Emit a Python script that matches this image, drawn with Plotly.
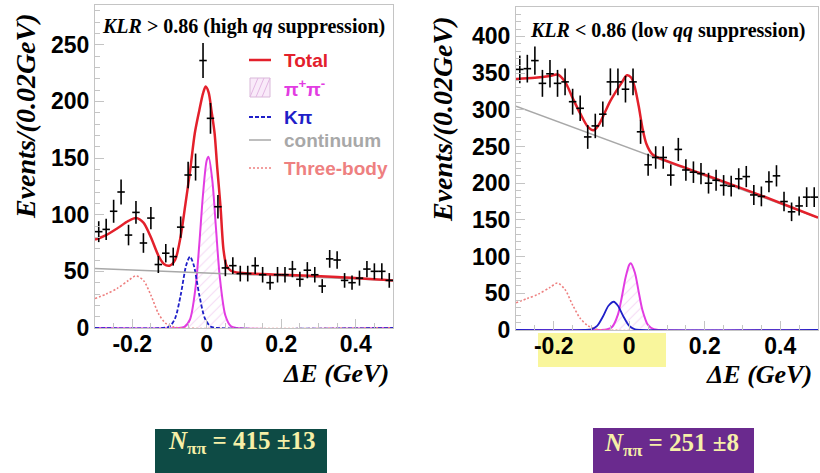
import numpy as np
import plotly.graph_objects as go

W, H = 820, 473

# ---------------- data ----------------
de_bins = [-0.29, -0.27, -0.25, -0.23, -0.21, -0.19, -0.17, -0.15, -0.13, -0.11,
           -0.09, -0.07, -0.05, -0.03, -0.01, 0.01, 0.03, 0.05, 0.07, 0.09,
           0.11, 0.13, 0.15, 0.17, 0.19, 0.21, 0.23, 0.25, 0.27, 0.29,
           0.31, 0.33, 0.35, 0.37, 0.39, 0.41, 0.43, 0.45, 0.47, 0.49]

counts_high = [85, 87, 103, 120, 82, 102, 75, 97, 56, 66,
               63, 89, 135, 142, 236, 185, 107, 53, 55, 48,
               48, 55, 47, 40, 47, 47, 52, 43, 51, 47,
               37, 61, 60, 42, 40, 44, 52, 50, 50, 42]

counts_low = [355, 356, 367, 336, 349, 336, 338, 311, 302, 263,
              278, 294, 338, 338, 328, 338, 270, 225, 235, 235,
              211, 246, 218, 215, 213, 200, 204, 197, 196, 206,
              209, 184, 182, 202, 210, 175, 161, 169, 181, 181]

bin_half = 0.01

# fit curves (high KLR panel)
tot_high_x = [-0.3, -0.27, -0.24, -0.21, -0.19, -0.17, -0.15, -0.13, -0.115, -0.1,
              -0.085, -0.07, -0.057, -0.045, -0.032, -0.02, -0.01, -0.003, 0.005, 0.0125,
              0.021, 0.028, 0.037, 0.045, 0.053, 0.065, 0.08, 0.2, 0.35, 0.5]
tot_high_y = [78, 82, 88, 94.5, 97, 93, 80, 64, 56.5, 55,
              60, 81, 110, 138, 172, 192, 207, 213, 208, 192,
              172, 142, 107, 69, 55, 50.5, 49, 47, 45, 42]

sig_high_x = [-0.3, -0.08, -0.06, -0.045, -0.03, -0.02, -0.01, 0.0, 0.005, 0.015,
              0.025, 0.035, 0.05, 0.065, 0.08, 0.5]
sig_high_y = [0, 0, 1, 7.5, 36, 74, 118, 148, 151, 130,
              87, 45, 11, 1.5, 0, 0]

kpi_high_x = [-0.3, -0.12, -0.1, -0.085, -0.07, -0.055, -0.045, -0.035, -0.02, -0.005,
              0.01, 0.03, 0.5]
kpi_high_y = [0, 0, 1.4, 8.5, 29, 55.6, 63, 55.6, 29, 8.5,
              1.4, 0, 0]

cont_high_x = [-0.3, 0.5]
cont_high_y = [52.5, 42]

three_high_x = [-0.3, -0.27, -0.24, -0.21, -0.19, -0.17, -0.15, -0.13, -0.11, -0.09,
                -0.07, 0.5]
three_high_y = [26, 30, 35, 42, 46, 42, 29, 13, 4, 1,
                0, 0]

# fit curves (low KLR panel)
tot_low_x = [-0.3, -0.25, -0.21, -0.19, -0.17, -0.15, -0.13, -0.11, -0.095, -0.08,
             -0.065, -0.05, -0.035, -0.02, -0.006, 0.005, 0.015, 0.025, 0.035, 0.045,
             0.06, 0.08, 0.2, 0.35, 0.5]
tot_low_y = [342, 343.5, 346, 348, 338, 316, 295, 277, 272, 280,
             296, 312, 325, 337, 347, 344, 330, 305, 275, 254,
             240, 234, 211.5, 183, 153]

sig_low_x = [-0.3, -0.08, -0.06, -0.045, -0.03, -0.02, -0.01, 0.0, 0.004, 0.015,
             0.025, 0.035, 0.05, 0.065, 0.08, 0.5]
sig_low_y = [0, 0, 0.6, 4.5, 21, 44, 71, 89, 91, 78,
             52, 27, 6.5, 1, 0, 0]

kpi_low_x = [-0.3, -0.12, -0.1, -0.085, -0.07, -0.055, -0.041, -0.03, -0.015, 0.0,
             0.015, 0.03, 0.5]
kpi_low_y = [0, 0, 0.9, 5.5, 18, 33, 38.5, 33, 18, 5.5,
             0.9, 0, 0]

cont_low_x = [-0.3, 0.5]
cont_low_y = [305, 153]

three_low_x = [-0.3, -0.27, -0.24, -0.21, -0.19, -0.17, -0.15, -0.13, -0.11, -0.09,
               -0.07, 0.5]
three_low_y = [37, 43, 49, 58, 64, 55, 34, 16, 6, 1.5,
               0, 0]

x_tickvals = [-0.2, 0, 0.2, 0.4]
x_ticktext = ["-0.2", "0", "0.2", "0.4"]
y_ticks_high = [0, 50, 100, 150, 200, 250]
y_ticks_low = [0, 50, 100, 150, 200, 250, 300, 350, 400]

titles = ["<i>KLR</i> > 0.86 (high <i>qq</i> suppression)",
          "<i>KLR</i> < 0.86 (low <i>qq</i> suppression)"]
yields = ["<i>N</i><sub>ππ</sub> = 415 ±13", "<i>N</i><sub>ππ</sub> = 251 ±8"]

# ---------------- styles ----------------
RED = "#e3202b"
MAG = "#e23ce2"
BLUE = "#1f1fc8"
GRAY = "#a8a8a8"
PINK = "#ee8080"
FRAME = "#c4c4c4"
SERIF = "Liberation Serif, Times New Roman, serif"
SANS = "Liberation Sans, Arial, sans-serif"
KPI_DASH = "4px,2px"


def px(x):
    return x / W


def py(y):
    return 1 - y / H


fig = go.Figure()

panels = [
    dict(xa="x", ya="y", counts=counts_high,
         tot=(tot_high_x, tot_high_y), sig=(sig_high_x, sig_high_y),
         kpi=(kpi_high_x, kpi_high_y), cont=(cont_high_x, cont_high_y),
         three=(three_high_x, three_high_y)),
    dict(xa="x2", ya="y2", counts=counts_low,
         tot=(tot_low_x, tot_low_y), sig=(sig_low_x, sig_low_y),
         kpi=(kpi_low_x, kpi_low_y), cont=(cont_low_x, cont_low_y),
         three=(three_low_x, three_low_y)),
]

for p in panels:
    xa, ya = p["xa"], p["ya"]
    fig.add_trace(go.Scatter(
        x=p["sig"][0], y=p["sig"][1], xaxis=xa, yaxis=ya, mode="lines",
        line=dict(color=MAG, width=2, shape="spline", smoothing=0.8),
        fill="tozeroy", fillcolor="rgba(0,0,0,0)",
        fillpattern=dict(shape="/", fgcolor="#eab4ea", bgcolor="rgba(255,255,255,0)",
                         size=7, solidity=0.15),
        showlegend=False, hoverinfo="skip"))
    fig.add_trace(go.Scatter(
        x=p["three"][0], y=p["three"][1], xaxis=xa, yaxis=ya, mode="lines",
        line=dict(color=PINK, width=1.6, dash="2px,2px", shape="spline", smoothing=0.8),
        showlegend=False, hoverinfo="skip"))
    fig.add_trace(go.Scatter(
        x=p["kpi"][0], y=p["kpi"][1], xaxis=xa, yaxis=ya, mode="lines",
        line=dict(color=BLUE, width=1.8, dash=KPI_DASH if xa == "x" else "solid",
                  shape="spline", smoothing=0.8),
        showlegend=False, hoverinfo="skip"))
    fig.add_trace(go.Scatter(
        x=p["cont"][0], y=p["cont"][1], xaxis=xa, yaxis=ya, mode="lines",
        line=dict(color=GRAY, width=1.5),
        showlegend=False, hoverinfo="skip"))
    fig.add_trace(go.Scatter(
        x=p["tot"][0], y=p["tot"][1], xaxis=xa, yaxis=ya, mode="lines",
        line=dict(color=RED, width=2.5, shape="spline", smoothing=0.8),
        showlegend=False, hoverinfo="skip"))
    errs = np.sqrt(np.array(p["counts"], dtype=float))
    fig.add_trace(go.Scatter(
        x=de_bins, y=p["counts"], xaxis=xa, yaxis=ya, mode="markers",
        marker=dict(size=1, color="black"),
        error_x=dict(type="constant", value=bin_half, color="black", thickness=1.6, width=0),
        error_y=dict(type="data", array=errs, color="black", thickness=1.6, width=0),
        showlegend=False, hoverinfo="skip"))

axis_common = dict(showline=True, linecolor=FRAME, linewidth=1, mirror=True,
                   ticks="inside", tickcolor=FRAME, showgrid=False, zeroline=False,
                   automargin=False,
                   tickfont=dict(family=SANS, size=23, color="black", weight="bold"))

fig.update_layout(
    width=W, height=H, autosize=False,
    margin=dict(l=0, r=0, t=0, b=0, autoexpand=False),
    paper_bgcolor="white", plot_bgcolor="white",
    xaxis=dict(domain=[px(95), px(393)], range=[-0.3, 0.5], anchor="y",
               tickvals=x_tickvals, ticktext=x_ticktext, ticklen=9, ticklabelstandoff=-5,
               minor=dict(dtick=0.05, ticks="inside", ticklen=5, tickcolor=FRAME),
               **axis_common),
    yaxis=dict(domain=[py(328), py(5)], range=[0, 285], anchor="x",
               tickvals=y_ticks_high, ticklen=9,
               minor=dict(dtick=10, ticks="inside", ticklen=5, tickcolor=FRAME),
               **axis_common),
    xaxis2=dict(domain=[px(516), px(818)], range=[-0.3, 0.5], anchor="y2",
                tickvals=x_tickvals, ticktext=x_ticktext, ticklen=9, ticklabelstandoff=-5,
                minor=dict(dtick=0.05, ticks="inside", ticklen=5, tickcolor=FRAME),
                **axis_common),
    yaxis2=dict(domain=[py(330), py(7)], range=[0, 440], anchor="x2",
                tickvals=y_ticks_low, ticklen=9,
                minor=dict(dtick=10, ticks="inside", ticklen=5, tickcolor=FRAME),
                **axis_common),
)

shapes = []
annotations = []

# yellow highlight under right panel axis
shapes.append(dict(type="rect", xref="paper", yref="paper", layer="below",
                   x0=px(538), x1=px(666), y0=py(367), y1=py(333),
                   fillcolor="#f9f69c", line=dict(width=0)))

# result boxes
shapes.append(dict(type="rect", xref="paper", yref="paper",
                   x0=px(155), x1=px(327), y0=py(473), y1=py(429),
                   fillcolor="#0e4b45", line=dict(width=0)))
shapes.append(dict(type="rect", xref="paper", yref="paper",
                   x0=px(593), x1=px(754), y0=py(473), y1=py(428),
                   fillcolor="#6a2a8e", line=dict(width=0)))
annotations.append(dict(xref="paper", yref="paper", x=px(241), y=py(442),
                        text=yields[0], showarrow=False, xanchor="center", yanchor="middle",
                        font=dict(family=SERIF, size=25, color="#f6f0a8", weight="bold")))
annotations.append(dict(xref="paper", yref="paper", x=px(671), y=py(444),
                        text=yields[1], showarrow=False, xanchor="center", yanchor="middle",
                        font=dict(family=SERIF, size=25, color="#f6f0a8", weight="bold")))

# panel titles
annotations.append(dict(xref="paper", yref="paper", x=px(100), y=py(27),
                        text=titles[0], showarrow=False, xanchor="left", yanchor="middle",
                        font=dict(family=SERIF, size=20, color="black", weight="bold")))
annotations.append(dict(xref="paper", yref="paper", x=px(528), y=py(30),
                        text=titles[1], showarrow=False, xanchor="left", yanchor="middle",
                        font=dict(family=SERIF, size=20, color="black", weight="bold")))

# axis titles
for xc, yc in [(25, 116), (443, 119)]:
    annotations.append(dict(xref="paper", yref="paper", x=px(xc), y=py(yc),
                            text="<i>Events/(0.02GeV)</i>", textangle=-90, showarrow=False,
                            xanchor="center", yanchor="middle",
                            font=dict(family=SERIF, size=28, color="black", weight="bold")))
for xr, yc in [(391, 373), (814, 374)]:
    annotations.append(dict(xref="paper", yref="paper", x=px(xr), y=py(yc),
                            text="<i>ΔE (GeV)</i>", showarrow=False,
                            xanchor="right", yanchor="middle",
                            font=dict(family=SERIF, size=26, color="black", weight="bold")))

# legend (left panel)
leg = [("Total", RED, 60), ("π<sup>+</sup>π<sup>-</sup>", MAG, 88), ("Kπ", BLUE, 117),
       ("continuum", GRAY, 140), ("Three-body", PINK, 168)]
for txt, col, yc in leg:
    annotations.append(dict(xref="paper", yref="paper", x=px(282), y=py(yc),
                            text=txt, showarrow=False, xanchor="left", yanchor="middle",
                            font=dict(family=SANS, size=19, color=col, weight="bold")))
shapes.append(dict(type="line", xref="paper", yref="paper", x0=px(249), x1=px(271),
                   y0=py(60), y1=py(60), line=dict(color=RED, width=2.5)))
shapes.append(dict(type="rect", xref="paper", yref="paper", x0=px(250), x1=px(270),
                   y0=py(97), y1=py(78), fillcolor="#f9eaf9", line=dict(color="#d9b8d9", width=1)))
for k in range(3):
    shapes.append(dict(type="line", xref="paper", yref="paper",
                       x0=px(250 + 6 * k), x1=px(258 + 6 * k), y0=py(97), y1=py(78),
                       line=dict(color="#e2b6e2", width=1)))
shapes.append(dict(type="line", xref="paper", yref="paper", x0=px(249), x1=px(271),
                   y0=py(117), y1=py(117), line=dict(color=BLUE, width=2, dash=KPI_DASH)))
shapes.append(dict(type="line", xref="paper", yref="paper", x0=px(249), x1=px(271),
                   y0=py(140), y1=py(140), line=dict(color=GRAY, width=1.5)))
shapes.append(dict(type="line", xref="paper", yref="paper", x0=px(249), x1=px(271),
                   y0=py(168), y1=py(168), line=dict(color=PINK, width=1.6, dash="2px,2px")))

fig.update_layout(shapes=shapes, annotations=annotations)

fig.write_html("out.html",
               config={"displayModeBar": False, "staticPlot": True},
               post_script="document.body.style.margin='0px';document.body.style.overflow='hidden';")
